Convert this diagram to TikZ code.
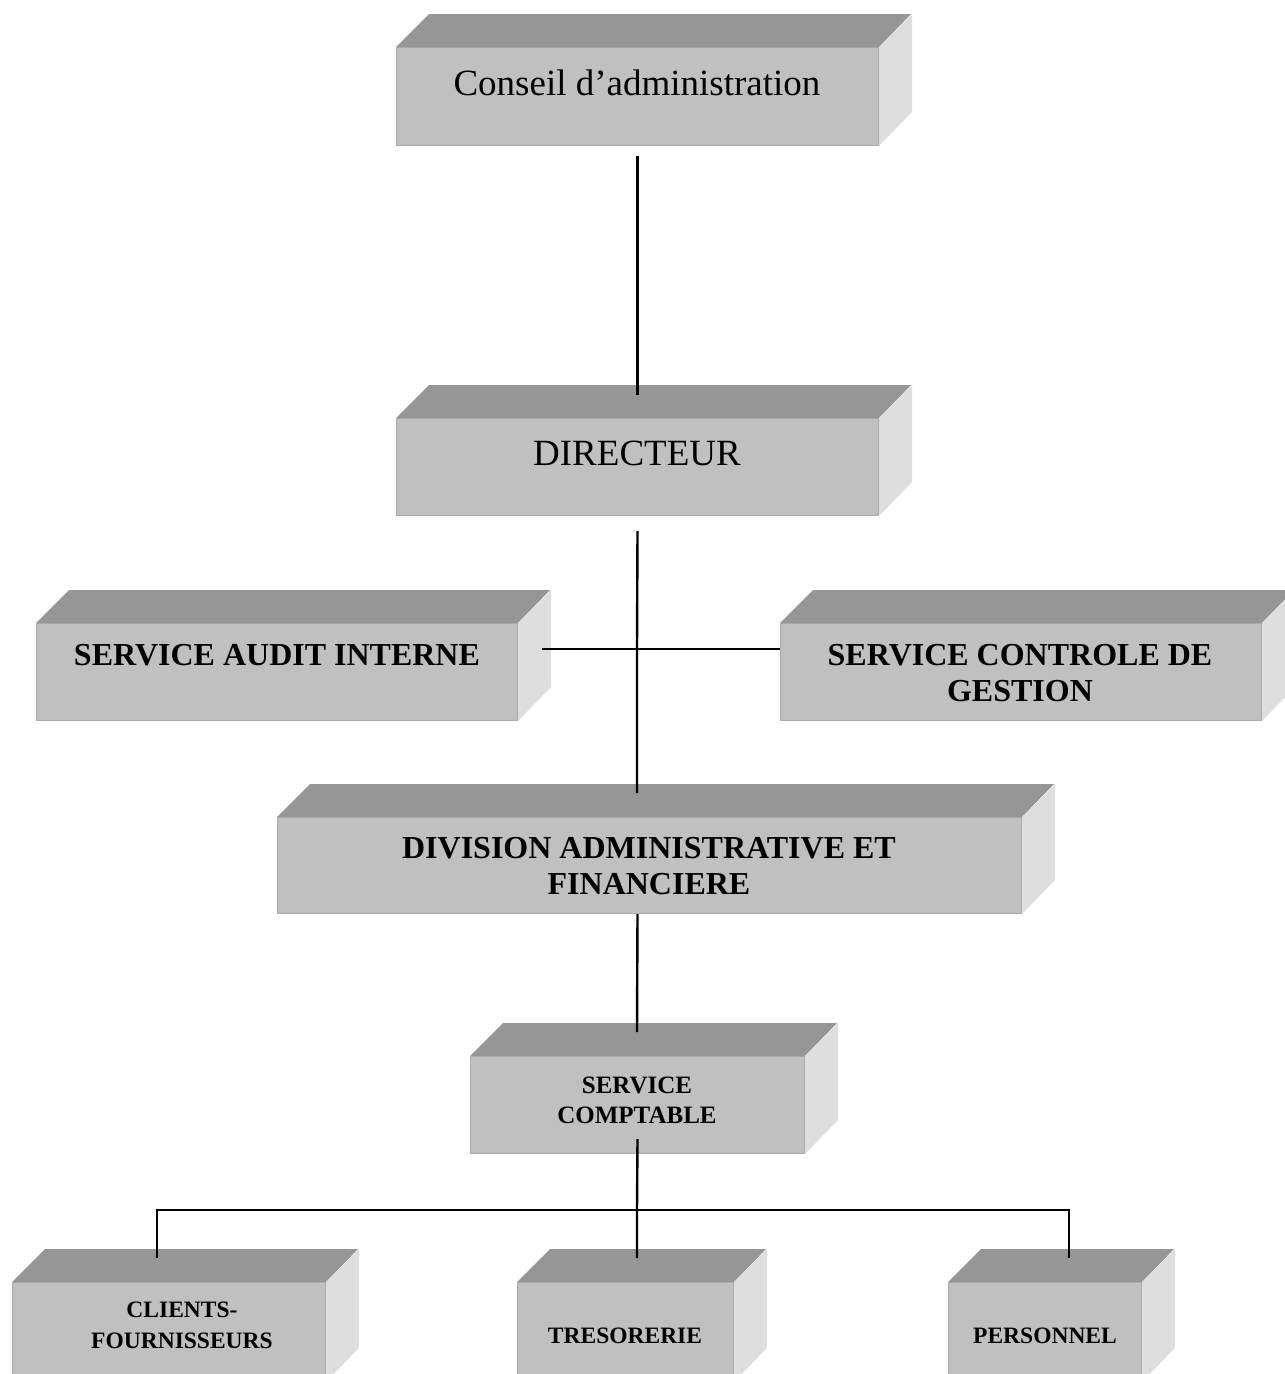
\documentclass[tikz,border=0pt]{standalone}
\usepackage{fontspec}
\setmainfont{Liberation Serif}
\definecolor{grisface}{HTML}{C0C0C0}
\definecolor{grisdessus}{HTML}{969696}
\definecolor{griscote}{HTML}{DEDEDE}
\definecolor{grisbord}{HTML}{ABABAB}
\begin{document}
\begin{tikzpicture}[x=1pt,y=-1pt,
  avant/.style={fill=grisface, draw=grisbord, line width=1pt, anchor=north west, inner sep=0pt},
  titre/.style={anchor=base, align=center, font=\fontsize{37}{44}\selectfont},
  gras/.style={anchor=base, align=center, font=\fontsize{32}{36}\selectfont\bfseries},
  moyen/.style={anchor=base, align=center, font=\fontsize{25}{30}\selectfont\bfseries},
  petit/.style={anchor=base, align=center, font=\fontsize{23.5}{31}\selectfont\bfseries},
  lien/.style={line width=2.4pt}]
\useasboundingbox (0,0) rectangle (1285,1374);
\clip (0,0) rectangle (1285,1374);
\foreach \nom/\x/\y/\w/\h in {conseil/396/47/482/98, directeur/396/418/482/97,
    audit/36/623/481/97, controle/780/623/481/97, division/277/817/744/96,
    comptable/470/1056/334/97, clients/12/1282/313/99, tresorerie/517/1282/216/99,
    personnel/948/1282/193/99}{
  \node[avant, minimum width=\w pt, minimum height=\h pt] (\nom) at (\x,\y) {};
  \fill[grisdessus] (\nom.north west) -- ++(33,-33) -- ++(\w,0) -- (\nom.north east) -- cycle;
  \fill[griscote] (\nom.north east) -- ++(33,-33) -- ++(0,\h) -- (\nom.south east) -- cycle;
}
\node[titre] (t-conseil) at (637,95) {Conseil d’administration};
\node[titre] (t-directeur) at (637,465) {DIRECTEUR};
\node[gras] (t-audit) at (277,665) {SERVICE AUDIT INTERNE};
\node[gras] (t-controle) at (1020,701) {SERVICE CONTROLE DE\\GESTION};
\node[gras] (t-division) at (649,894) {DIVISION ADMINISTRATIVE ET\\FINANCIERE};
\node[moyen] (t-comptable) at (637,1123) {SERVICE\\COMPTABLE};
\node[petit] (t-clients) at (182,1348) {CLIENTS-\\FOURNISSEURS};
\node[petit] (t-tresorerie) at (625,1343) {TRESORERIE};
\node[petit] (t-personnel) at (1045,1343) {PERSONNEL};
\coordinate (croix) at (637,648);
\coordinate (bus-g) at (157,1210);
\coordinate (bus-m) at (637,1210);
\coordinate (bus-d) at (1069,1210);
\coordinate (vers-division) at (637,793);
\coordinate (vers-comptable) at (637,1032);
\coordinate (vers-clients) at (157,1258);
\coordinate (vers-tresorerie) at (637,1258);
\coordinate (vers-personnel) at (1069,1258);
\draw[lien] ([yshift=-10pt]conseil.south) -- ([yshift=23pt]directeur.north);
\draw[lien] ([yshift=-15pt]directeur.south) -- (croix) -- (vers-division);
\draw[lien] ([xshift=24pt,yshift=23pt]audit.east) -- ([yshift=23pt]controle.west);
\draw[lien] (division.south -| comptable.north) -- (vers-comptable);
\draw[lien] ([yshift=15pt]comptable.south) -- (bus-m) -- (vers-tresorerie);
\draw[lien] (vers-clients) -- (bus-g) -- (bus-d) -- (vers-personnel);
\end{tikzpicture}
\end{document}
